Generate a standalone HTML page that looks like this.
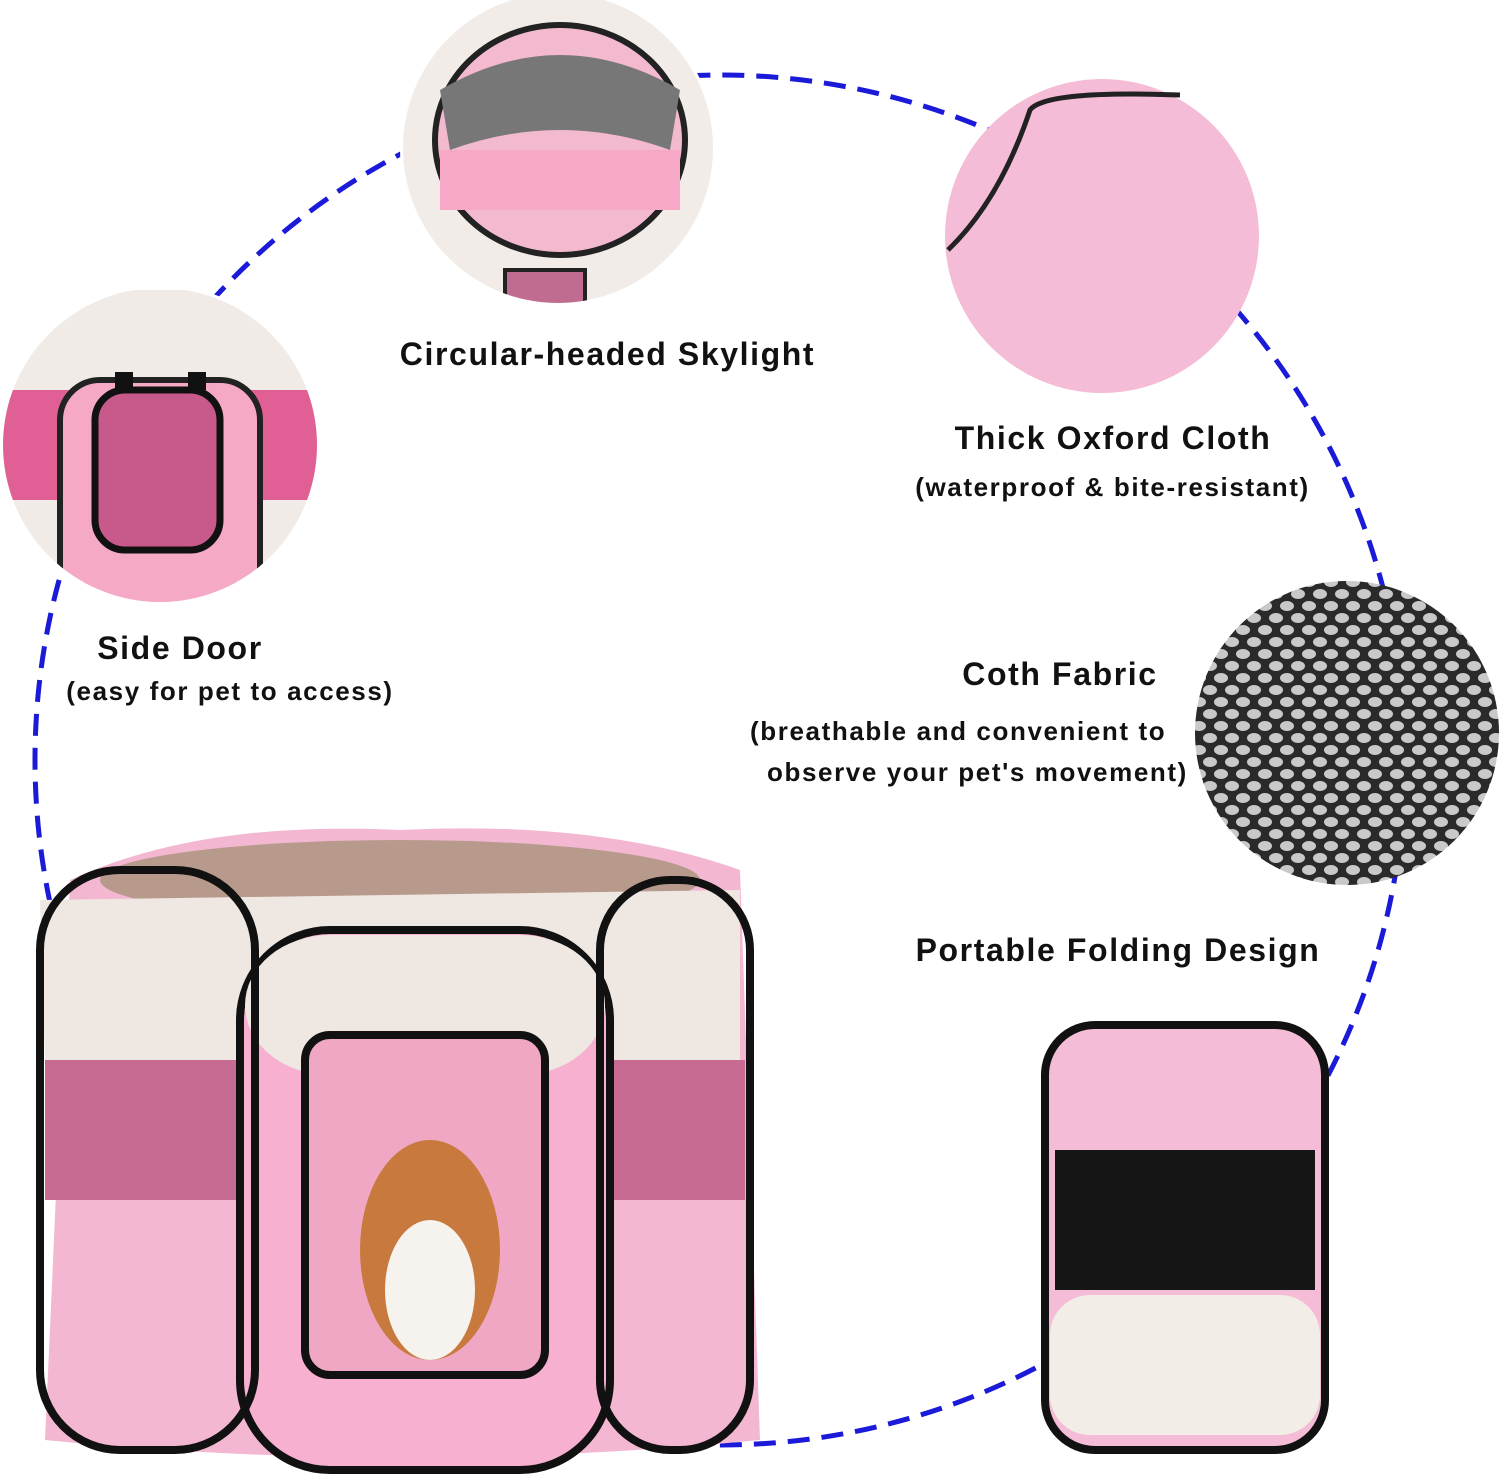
<!DOCTYPE html>
<html><head><meta charset="utf-8"><style>
body{margin:0;width:1500px;height:1474px;background:#fff;overflow:hidden;position:relative;font-family:"Liberation Sans",sans-serif}
.t{position:absolute;font-weight:bold;color:#111;white-space:nowrap;text-align:center;letter-spacing:1.6px}
</style></head><body>
<svg width="1500" height="1474" style="position:absolute;left:0;top:0">
<defs>
<pattern id="mesh" width="22" height="24" patternUnits="userSpaceOnUse">
<rect width="22" height="24" fill="#2a2a2a"/>
<ellipse cx="11" cy="6" rx="7" ry="5" fill="#c9c9c9"/>
<ellipse cx="0" cy="18" rx="7" ry="5" fill="#c9c9c9"/><ellipse cx="22" cy="18" rx="7" ry="5" fill="#c9c9c9"/>
</pattern>
<clipPath id="c1"><circle cx="558" cy="148" r="155"/></clipPath>
<clipPath id="c3"><circle cx="160" cy="445" r="157"/></clipPath>
</defs>
<circle cx="720" cy="760" r="685" fill="none" stroke="#1a1ad8" stroke-width="5" stroke-dasharray="22 12"/>
<circle cx="558" cy="148" r="158" fill="#fff"/>
<g clip-path="url(#c1)">
<rect x="400" y="-10" width="320" height="320" fill="#f1ece8"/>
<ellipse cx="560" cy="140" rx="125" ry="115" fill="#f2b9cf" stroke="#222" stroke-width="6"/>
<path d="M440 90 Q560 20 680 90 L670 150 Q560 110 450 150Z" fill="#777"/>
<rect x="440" y="150" width="240" height="60" fill="#f7a8c6"/>
<rect x="505" y="270" width="80" height="40" fill="#c06c90" stroke="#222" stroke-width="4"/>
</g>
<circle cx="1102" cy="236" r="157" fill="#f4bcd6"/>
<path d="M948 250 Q1000 200 1030 110 Q1045 90 1180 95" fill="none" stroke="#222" stroke-width="5"/>
<circle cx="160" cy="445" r="160" fill="#fff"/>
<g clip-path="url(#c3)">
<rect x="0" y="290" width="320" height="330" fill="#f0ebe6"/>
<rect x="0" y="390" width="320" height="110" fill="#e06096"/>
<rect x="60" y="380" width="200" height="230" rx="40" fill="#f5a9c7" stroke="#222" stroke-width="6"/>
<rect x="95" y="390" width="125" height="160" rx="30" fill="#c75a8a" stroke="#111" stroke-width="7"/>
<rect x="115" y="372" width="18" height="18" fill="#111"/><rect x="188" y="372" width="18" height="18" fill="#111"/>
</g>
<circle cx="1347" cy="733" r="152" fill="url(#mesh)"/>
<path d="M70 880 Q200 820 400 830 Q600 820 740 870 L760 1440 Q400 1475 45 1440 Z" fill="#f3b7d2"/>
<ellipse cx="400" cy="880" rx="300" ry="40" fill="#b79a8c"/>
<path d="M40 900 L740 890 L740 1060 L45 1060Z" fill="#efe8e2"/>
<rect x="45" y="1060" width="700" height="140" fill="#c86b92"/>
<rect x="240" y="930" width="370" height="540" rx="90" fill="#f7b0cf" stroke="#111" stroke-width="8"/>
<rect x="245" y="935" width="360" height="140" rx="85" fill="#efe8e2"/>
<rect x="305" y="1035" width="240" height="340" rx="25" fill="#f0a7c4" stroke="#111" stroke-width="8"/>
<ellipse cx="430" cy="1250" rx="70" ry="110" fill="#c87a3e"/>
<ellipse cx="430" cy="1290" rx="45" ry="70" fill="#f6f3ef"/>
<rect x="40" y="870" width="215" height="580" rx="80" fill="none" stroke="#111" stroke-width="8"/>
<rect x="600" y="880" width="150" height="570" rx="70" fill="none" stroke="#111" stroke-width="8"/>
<rect x="1045" y="1025" width="280" height="425" rx="50" fill="#f4bcd6" stroke="#111" stroke-width="8"/>
<rect x="1055" y="1150" width="260" height="140" fill="#151515"/>
<rect x="1050" y="1295" width="270" height="140" rx="40" fill="#f2ede6"/>
</svg>
<div class="t" style="left:380px;top:336px;width:455px;font-size:32px">Circular-headed Skylight</div>
<div class="t" style="left:893px;top:420px;width:440px;font-size:32px">Thick Oxford Cloth</div>
<div class="t" style="left:880px;top:472px;width:465px;font-size:26px">(waterproof &amp; bite-resistant)</div>
<div class="t" style="left:10px;top:630px;width:340px;font-size:32px">Side Door</div>
<div class="t" style="left:40px;top:676px;width:380px;font-size:26px">(easy for pet to access)</div>
<div class="t" style="left:890px;top:656px;width:340px;font-size:32px">Coth Fabric</div>
<div class="t" style="left:750px;top:716px;font-size:26px;text-align:left">(breathable and convenient to</div>
<div class="t" style="left:767px;top:757px;font-size:26px;text-align:left">observe your pet's movement)</div>
<div class="t" style="left:890px;top:932px;width:456px;font-size:32px">Portable Folding Design</div>
</body></html>
